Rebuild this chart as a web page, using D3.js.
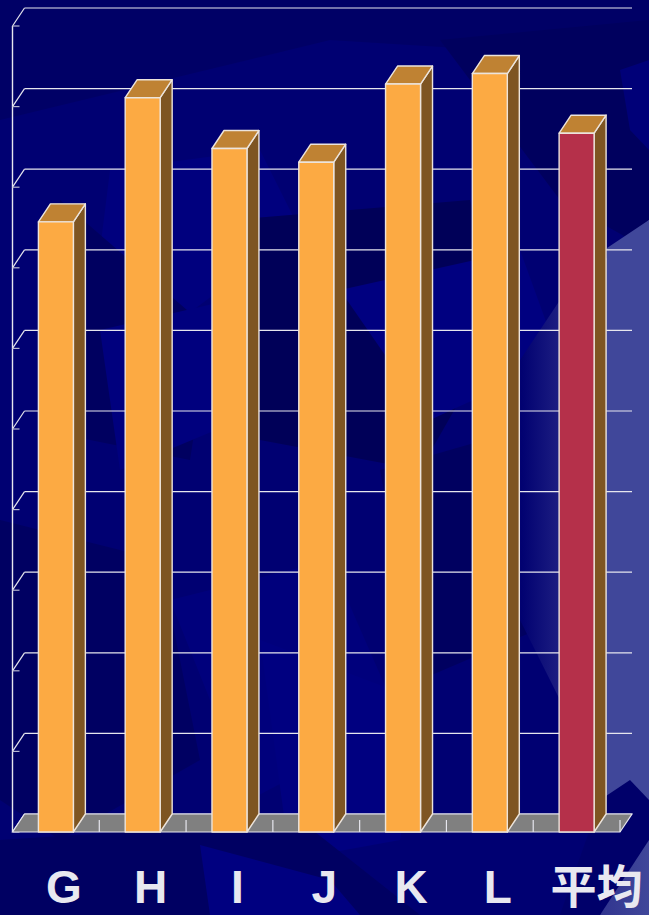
<!DOCTYPE html>
<html>
<head>
<meta charset="utf-8">
<script src="https://cdn.jsdelivr.net/npm/d3@7"></script>
<style>
  html, body { margin: 0; padding: 0; background: #000070; }
  svg { display: block; }
</style>
</head>
<body>
<script>
// data
var categories = ["G", "H", "I", "J", "K", "L", "平均"];
var values = [75.7, 91.1, 84.8, 83.1, 92.8, 94.1, 86.7];
var yTicks = [0, 10, 20, 30, 40, 50, 60, 70, 80, 90, 100];

var W = 649, H = 915;
// 3d offset of the back wall
var dx = 12, dy = -18;

var svg = d3.select("body").append("svg")
    .attr("width", W)
    .attr("height", H);

var defs = svg.append("defs");
var grad = defs.append("linearGradient")
    .attr("id", "lav")
    .attr("x1", "0").attr("x2", "1").attr("y1", "0").attr("y2", "0");
grad.append("stop").attr("offset", "0").attr("stop-color", "#000070");
grad.append("stop").attr("offset", "0.45").attr("stop-color", "#2a2c8a");
grad.append("stop").attr("offset", "1").attr("stop-color", "#40479a");

// background shapes
var bg = svg.append("g");
bg.append("rect").attr("width", W).attr("height", H).attr("fill", "#000072");
var shapes = [
  {c: "#000066", p: [[0,0],[649,0],[649,60],[330,40],[0,120]]},
  {c: "#00007e", p: [[110,170],[260,150],[300,230],[180,320],[95,290]]},
  {c: "#000060", p: [[60,200],[210,330],[190,460],[40,430]]},
  {c: "#000058", p: [[230,220],[470,200],[500,330],[420,470],[260,440]]},
  {c: "#00007e", p: [[100,330],[230,300],[240,420],[120,470]]},
  {c: "#000080", p: [[340,290],[520,250],[560,360],[430,420]]},
  {c: "#00005e", p: [[440,40],[649,20],[649,250],[560,200]]},
  {c: "#000078", p: [[620,70],[649,60],[649,150],[630,130]]},
  {c: "#000062", p: [[0,520],[160,560],[200,760],[60,840],[0,800]]},
  {c: "#00007c", p: [[170,600],[330,560],[400,720],[250,800]]},
  {c: "#000060", p: [[380,470],[520,430],[560,620],[420,680]]},
  {c: "#000080", p: [[260,640],[420,700],[400,840],[290,860]]},
  {c: "#000062", p: [[0,840],[300,820],[420,915],[0,915]]},
  {c: "#000080", p: [[200,845],[330,880],[360,915],[210,915]]},
  {c: "url(#lav)", p: [[520,360],[560,300],[649,220],[649,915],[600,915],[649,790],[590,760],[520,620]]},
  {c: "#40479a", p: [[607,248],[649,220],[649,840],[600,830]]},
  {c: "#00006a", p: [[600,800],[630,780],[649,800],[649,840],[600,915],[560,915]]}
];
bg.selectAll("polygon")
  .data(shapes)
  .enter().append("polygon")
    .attr("points", function(d) { return d.p.join(" "); })
    .attr("fill", function(d) { return d.c; });

// scales
var x = d3.scaleBand()
    .domain(categories)
    .range([12.5, 620])
    .paddingInner(0.597)
    .paddingOuter(0.2985);
var y = d3.scaleLinear()
    .domain([0, 100])
    .range([832, 26]);

var x0 = x.range()[0], x1 = x.range()[1];
var lineCol = "#e6e6ee";

// back wall gridlines
svg.append("g").selectAll("line")
  .data(yTicks)
  .enter().append("line")
    .attr("x1", x0 + dx).attr("x2", x1 + dx)
    .attr("y1", function(d) { return y(d) + dy; })
    .attr("y2", function(d) { return y(d) + dy; })
    .attr("stroke", lineCol)
    .attr("stroke-width", 1.2);

// left wall diagonals
svg.append("g").selectAll("line")
  .data(yTicks)
  .enter().append("line")
    .attr("x1", x0).attr("x2", x0 + dx)
    .attr("y1", function(d) { return y(d); })
    .attr("y2", function(d) { return y(d) + dy; })
    .attr("stroke", lineCol)
    .attr("stroke-width", 1.2);

// value axis line and small ticks
svg.append("line")
    .attr("x1", x0).attr("x2", x0)
    .attr("y1", y(100)).attr("y2", y(0))
    .attr("stroke", lineCol)
    .attr("stroke-width", 1.4);
svg.append("g").selectAll("line")
  .data(yTicks)
  .enter().append("line")
    .attr("x1", x0).attr("x2", x0 + 7)
    .attr("y1", function(d) { return y(d); })
    .attr("y2", function(d) { return y(d); })
    .attr("stroke", "#b8b8d0")
    .attr("stroke-width", 1.2);

// floor
svg.append("polygon")
    .attr("points", [[x0, y(0)], [x1, y(0)], [x1 + dx, y(0) + dy], [x0 + dx, y(0) + dy]].join(" "))
    .attr("fill", "#808080")
    .attr("stroke", lineCol)
    .attr("stroke-width", 1.2);

// category ticks on the floor
svg.append("g").selectAll("line")
  .data(categories.slice(1).concat([null]))
  .enter().append("line")
    .attr("x1", function(d, i) { return d ? x(d) - x.step() * x.paddingInner() / 2 : x1; })
    .attr("x2", function(d, i) { return d ? x(d) - x.step() * x.paddingInner() / 2 : x1; })
    .attr("y1", y(0))
    .attr("y2", y(0) - 12)
    .attr("stroke", lineCol)
    .attr("stroke-width", 1.2);

// bars
var bars = svg.append("g").selectAll("g")
  .data(categories.map(function(c, i) { return {cat: c, v: values[i], avg: c === "平均"}; }))
  .enter().append("g")
    .attr("stroke", "#ece4dc")
    .attr("stroke-width", 1.4)
    .attr("stroke-linejoin", "round");

// side face
bars.append("polygon")
    .attr("points", function(d) {
      var r = x(d.cat) + x.bandwidth(), t = y(d.v), b = y(0);
      return [[r, b], [r, t], [r + dx, t + dy], [r + dx, b + dy]].join(" ");
    })
    .attr("fill", "#7e5522");
// top face
bars.append("polygon")
    .attr("points", function(d) {
      var l = x(d.cat), r = l + x.bandwidth(), t = y(d.v);
      return [[l, t], [r, t], [r + dx, t + dy], [l + dx, t + dy]].join(" ");
    })
    .attr("fill", "#bf8233");
// front face
bars.append("rect")
    .attr("x", function(d) { return x(d.cat); })
    .attr("y", function(d) { return y(d.v); })
    .attr("width", x.bandwidth())
    .attr("height", function(d) { return y(0) - y(d.v); })
    .attr("fill", function(d) { return d.avg ? "#b5304a" : "#fcaa43"; });

// category labels (the wide one sits a bit further right)
svg.append("g").selectAll("text")
  .data(categories)
  .enter().append("text")
    .attr("x", function(d) { return x(d) + x.bandwidth() / 2 + (d.length > 1 ? 20 : 8); })
    .attr("y", 903)
    .attr("text-anchor", "middle")
    .attr("fill", "#e8e8f0")
    .attr("font-family", "'Liberation Sans', 'Noto Sans CJK JP', sans-serif")
    .attr("font-weight", "bold")
    .attr("font-size", 46)
    .text(function(d) { return d; });
</script>
</body>
</html>
